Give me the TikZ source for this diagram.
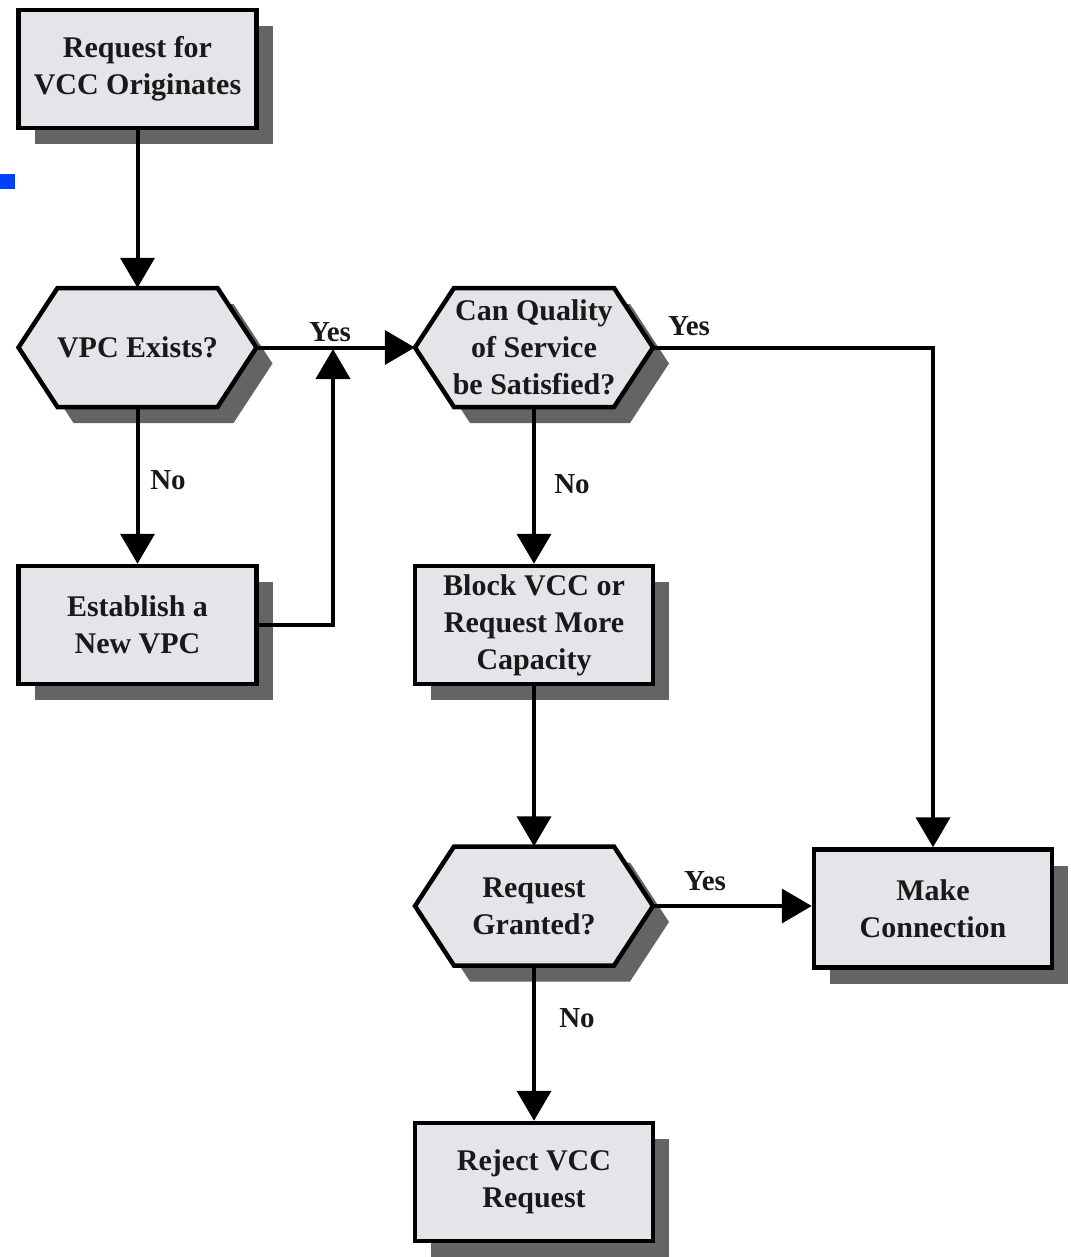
\documentclass[tikz,border=0pt]{standalone}
\usepackage{fontspec}
\setmainfont{Liberation Serif}
\usetikzlibrary{arrows.meta,shadows}
\definecolor{boxfill}{RGB}{230,228,232}
\definecolor{shadowc}{RGB}{100,100,100}
\definecolor{bluemark}{RGB}{0,64,255}
\definecolor{txt}{RGB}{25,25,25}
\newcommand\hexdraw[2]{%
  \begin{scope}[shift={(#1,#2)}]
    \fill[shadowc] (-103,16) -- (-64,-43.5) -- (96,-43.5) -- (135,16) -- (96,75.5) -- (-64,75.5) -- cycle;
    \filldraw[fill=boxfill, draw=black, line width=4.5pt, line join=miter]
      (-119,0) -- (-80,-59.5) -- (80,-59.5) -- (119,0) -- (80,59.5) -- (-80,59.5) -- cycle;
  \end{scope}}
\tikzset{
  boxnode/.style={draw=black, line width=4.5pt, fill=boxfill, minimum width=238pt, minimum height=118pt,
    inner sep=0pt, align=center, font=\fontsize{30}{37}\selectfont\bfseries, text=txt,
    drop shadow={shadow xshift=16pt, shadow yshift=-16pt, fill=shadowc, opacity=1}},
  hexnode/.style={minimum width=238pt, minimum height=119pt, inner sep=0pt, align=center,
    font=\fontsize{30}{37}\selectfont\bfseries, text=txt},
  conn/.style={line width=4pt, -{Triangle[length=30pt,width=34pt]}},
  lbl/.style={font=\fontsize{29}{34}\selectfont\bfseries, text=txt, inner sep=0pt},
}
\begin{document}
\begin{tikzpicture}[x=1pt,y=-1pt]
  \useasboundingbox (0,0) rectangle (1070,1257);
  \node (mark) [fill=bluemark, inner sep=0pt, minimum width=15pt, minimum height=15pt, anchor=north west] at (0,174) {};

  \hexdraw{137.5}{347.5}
  \hexdraw{534}{347.5}
  \hexdraw{534}{906}

  \node (start) [boxnode] at (137.5,69) {Request for\\VCC Originates};
  \node (vpc) [hexnode] at (137.5,347.5) {VPC Exists?};
  \node (est) [boxnode] at (137.5,625) {Establish a\\New VPC};
  \node (qos) [hexnode] at (534,347.5) {Can Quality\\of Service\\be Satisfied?};
  \node (block) [boxnode] at (534,625) {Block VCC or\\Request More\\Capacity};
  \node (grant) [hexnode] at (534,906) {Request\\Granted?};
  \node (make) [boxnode] at (933,908.5) {Make\\Connection};
  \node (reject) [boxnode] at (534,1182) {Reject VCC\\Request};

  \coordinate (join) at (333,349);

  \draw[conn] (start) -- (vpc);
  \draw[conn] (vpc) -- (qos);
  \draw[conn] (vpc) -- (est);
  \draw[conn] (est.east) -| (join);
  \draw[conn] (qos.east) -| (make.north);
  \draw[conn] (qos) -- (block);
  \draw[conn] (block) -- (grant);
  \draw[conn] (grant.east) -- (grant.east -| make.west);
  \draw[conn] (grant) -- (reject);

  \node (y1) [lbl] at (330,332) {Yes};
  \node (n1) [lbl] at (168,480) {No};
  \node (y2) [lbl] at (689,326) {Yes};
  \node (n2) [lbl] at (572,484) {No};
  \node (y3) [lbl] at (705,881) {Yes};
  \node (n3) [lbl] at (577,1018) {No};
\end{tikzpicture}
\end{document}
